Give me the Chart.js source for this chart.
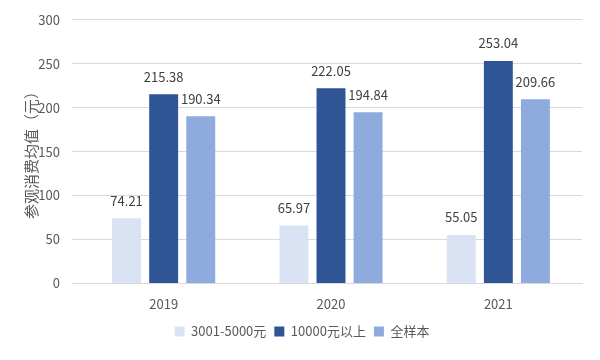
<!DOCTYPE html>
<html>
<head>
<meta charset="utf-8">
<script src="https://cdn.jsdelivr.net/npm/chart.js@4"></script>
<style>
  html, body { margin: 0; padding: 0; background: #fff; }
  #wrap { width: 600px; height: 360px; }
</style>
</head>
<body>
<div id="wrap"><canvas id="spendChart"></canvas></div>
<script>
"use strict";

// DATA -----------------------
const years = ["2019", "2020", "2021"];
const low = [74.21, 65.97, 55.05];
const high = [215.38, 222.05, 253.04];
const all = [190.34, 194.84, 209.66];
const seriesNames = ["3001-5000元", "10000元以上", "全样本"];

const fontFamily = "'Noto Sans CJK SC', 'DejaVu Sans', sans-serif";
const textColor = "#595959";
const gridColor = "#d9d9d9";

// value labels above each bar
const barLabels = {
  id: "barLabels",
  afterDatasetsDraw(chart) {
    const ctx = chart.ctx;
    ctx.save();
    ctx.font = "13px " + fontFamily;
    ctx.fillStyle = "#404040";
    ctx.textAlign = "center";
    ctx.textBaseline = "bottom";
    chart.data.datasets.forEach(function (ds, i) {
      chart.getDatasetMeta(i).data.forEach(function (bar, j) {
        ctx.fillText(ds.data[j].toFixed(2), bar.x, bar.y - 11);
      });
    });
    ctx.restore();
  }
};

// CHART -----------------------
new Chart(document.getElementById("spendChart"), {
  type: "bar",
  data: {
    labels: years,
    datasets: [
      { label: seriesNames[0], data: low, backgroundColor: "#dae3f3" },
      { label: seriesNames[1], data: high, backgroundColor: "#2f5597" },
      { label: seriesNames[2], data: all, backgroundColor: "#8faadc" }
    ]
  },
  options: {
    responsive: true,
    maintainAspectRatio: false,
    animation: false,
    datasets: {
      bar: { categoryPercentage: 0.665, barPercentage: 0.78 }
    },
    layout: { padding: { left: 22, right: 18, top: 4, bottom: 12 } },
    plugins: {
      legend: {
        position: "bottom",
        labels: {
          boxWidth: 10,
          boxHeight: 10,
          padding: 8,
          color: textColor,
          font: { family: fontFamily, size: 13 }
        }
      },
      tooltip: { enabled: false }
    },
    scales: {
      x: {
        grid: { display: false },
        border: { color: gridColor },
        ticks: { color: textColor, font: { family: fontFamily, size: 13 }, padding: 5 }
      },
      y: {
        min: 0,
        max: 300,
        ticks: { stepSize: 50, color: textColor, font: { family: fontFamily, size: 13 }, padding: 12 },
        grid: { color: gridColor },
        border: { display: false },
        title: {
          display: true,
          text: "参观消费均值（元）",
          color: textColor,
          font: { family: fontFamily, size: 15 },
          padding: 0
        },
        afterFit(axis) { axis.width = 58; }
      }
    }
  },
  plugins: [barLabels]
});
</script>
</body>
</html>
